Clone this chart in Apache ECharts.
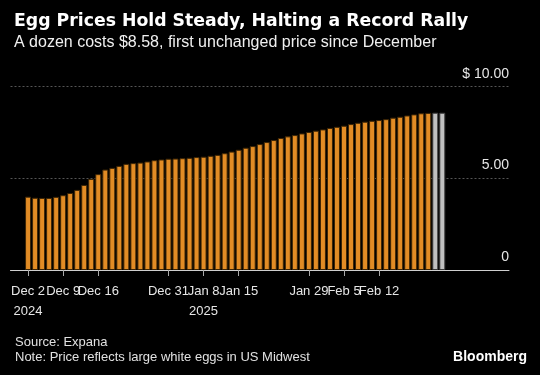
<!DOCTYPE html>
<html>
<head>
<meta charset="utf-8">
<title>Egg Prices</title>
<script src="https://cdn.jsdelivr.net/npm/echarts@6/dist/echarts.min.js"></script>
<style>
  html, body { margin: 0; padding: 0; background: #000; }
  #chart { width: 540px; height: 375px; }
</style>
</head>
<body>
<div id="chart"></div>
<script>
// business days, Dec 2 2024 - Feb 25 2025
var dates = [
  'Dec 2', 'Dec 3', 'Dec 4', 'Dec 5', 'Dec 6',
  'Dec 9', 'Dec 10', 'Dec 11', 'Dec 12', 'Dec 13',
  'Dec 16', 'Dec 17', 'Dec 18', 'Dec 19', 'Dec 20',
  'Dec 23', 'Dec 24', 'Dec 26', 'Dec 27', 'Dec 30', 'Dec 31',
  'Jan 2', 'Jan 3', 'Jan 6', 'Jan 7', 'Jan 8', 'Jan 9', 'Jan 10',
  'Jan 13', 'Jan 14', 'Jan 15', 'Jan 16', 'Jan 17',
  'Jan 20', 'Jan 21', 'Jan 22', 'Jan 23', 'Jan 24',
  'Jan 27', 'Jan 28', 'Jan 29', 'Jan 30', 'Jan 31',
  'Feb 3', 'Feb 4', 'Feb 5', 'Feb 6', 'Feb 7',
  'Feb 10', 'Feb 11', 'Feb 12', 'Feb 13', 'Feb 14',
  'Feb 17', 'Feb 18', 'Feb 19', 'Feb 20', 'Feb 21',
  'Feb 24', 'Feb 25'
]
// price of a dozen, $
var prices = [
  4.00, 3.94, 3.93, 3.93, 3.99,
  4.08, 4.20, 4.37, 4.64, 4.97,
  5.23, 5.48, 5.57, 5.68, 5.79,
  5.83, 5.86, 5.92, 5.99, 6.03, 6.07,
  6.08, 6.10, 6.12, 6.16, 6.18, 6.23, 6.28,
  6.37, 6.46, 6.56, 6.67, 6.76,
  6.87, 6.98, 7.09, 7.20, 7.29,
  7.36, 7.45, 7.53, 7.60, 7.67,
  7.75, 7.81, 7.87, 7.96, 8.03,
  8.09, 8.14, 8.18, 8.23, 8.31,
  8.36, 8.43, 8.49, 8.55, 8.57,
  8.58, 8.58
]
// last bars drawn grey (unchanged price)
var greyCount = 2
var tickLabels = ['Dec 2', 'Dec 9', 'Dec 16', 'Dec 31', 'Jan 8', 'Jan 15', 'Jan 29', 'Feb 5', 'Feb 12']
var yearLabels = { 'Dec 2': '2024', 'Jan 8': '2025' }
var yTicks = [0, 5, 10]

// empty slots so the axis runs past the bars like the original
var padLeft = 2
var padRight = 9

var cats = []
var barData = []
for (var i = 0; i < padLeft; i++) { cats.push(' ' + i); barData.push(null) }
dates.forEach(function (d, k) {
  cats.push(d)
  var grey = k >= dates.length - greyCount
  barData.push({
    value: prices[k],
    itemStyle: { color: grey ? '#c0c0c0' : '#e28c25', borderColor: grey ? '#3a3a3a' : '#3d2606' }
  })
})
for (var j = 0; j < padRight; j++) { cats.push('  ' + j); barData.push(null) }

// the labels are crowded, so split them over two stacked axes
// (every other label on each) to keep echarts from dropping any
function tickFilter (part) {
  return function (idx, val) {
    var n = tickLabels.indexOf(val)
    return n !== -1 && n % 2 === part
  }
}

function makeXAxis (part) {
  return {
    type: 'category',
    position: 'bottom',
    data: cats,
    axisLine: { show: part === 0, onZero: false, lineStyle: { color: '#cfcfcf', width: 1 } },
    axisTick: {
      show: true,
      alignWithLabel: true,
      interval: tickFilter(part),
      length: 6,
      lineStyle: { color: '#aaa' }
    },
    axisLabel: {
      interval: tickFilter(part),
      hideOverlap: false,
      color: '#e6e6e6',
      fontFamily: 'Liberation Sans',
      fontSize: 13,
      lineHeight: 20,
      margin: 11,
      formatter: function (v) {
        return yearLabels[v] ? v + '\n' + yearLabels[v] : v
      }
    },
    splitLine: { show: false }
  }
}

var chart = echarts.init(document.getElementById('chart'))
chart.setOption({
  backgroundColor: '#000',
  animation: false,
  title: [
    {
      text: 'Egg Prices Hold Steady, Halting a Record Rally',
      left: 9, top: 8,
      textStyle: { color: '#fff', fontFamily: 'DejaVu Sans', fontWeight: 'bold', fontSize: 17.3 }
    },
    {
      text: 'A dozen costs $8.58, first unchanged price since December',
      left: 9, top: 30,
      textStyle: { color: '#f0f0f0', fontFamily: 'Liberation Sans', fontWeight: 'normal', fontSize: 16 }
    },
    {
      text: 'Source: Expana\nNote: Price reflects large white eggs in US Midwest',
      left: 10, top: 330,
      textStyle: { color: '#e0e0e0', fontFamily: 'Liberation Sans', fontWeight: 'normal', fontSize: 13, lineHeight: 15 }
    },
    {
      text: 'Bloomberg',
      right: 8, top: 345,
      textStyle: { color: '#fff', fontFamily: 'Liberation Sans', fontWeight: 'bold', fontSize: 14 }
    }
  ],
  grid: { left: 10.5, right: 31, top: 86.7, bottom: 105 },
  xAxis: [makeXAxis(0), makeXAxis(1)],
  yAxis: {
    type: 'value',
    position: 'right',
    min: yTicks[0],
    max: yTicks[yTicks.length - 1],
    interval: 5,
    axisLine: { show: false },
    axisTick: { show: false },
    splitLine: { lineStyle: { color: '#555', type: [2, 2], width: 1 } },
    axisLabel: {
      inside: true,
      margin: 0,
      color: '#e6e6e6',
      fontFamily: 'Liberation Sans',
      fontSize: 14,
      verticalAlign: 'bottom',
      padding: [0, 0, 6, 0],
      formatter: function (v) {
        if (v === 0) return '0'
        if (v === yTicks[yTicks.length - 1]) return '$ ' + v.toFixed(2)
        return v.toFixed(2)
      }
    }
  },
  series: [
    {
      type: 'bar',
      xAxisIndex: 0,
      data: barData,
      barWidth: 6,
      itemStyle: { borderWidth: 1 }
    }
  ]
})
</script>
</body>
</html>
